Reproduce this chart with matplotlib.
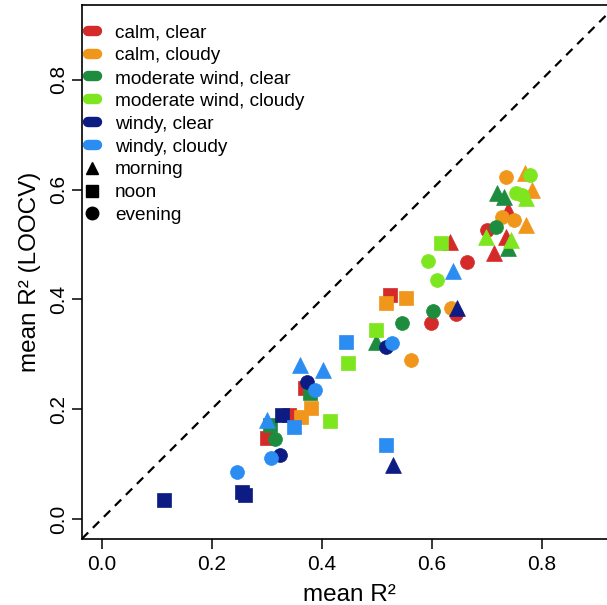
import matplotlib
matplotlib.use("Agg")
import matplotlib.pyplot as plt
from matplotlib.lines import Line2D

plt.rcParams['font.family'] = ['Liberation Sans', 'DejaVu Sans']

# groupes (vent, nebulosite) et couleurs
groups = ["calm, clear", "calm, cloudy", "moderate wind, clear",
          "moderate wind, cloudy", "windy, clear", "windy, cloudy"]
colors = ["#D42A2A", "#F0961A", "#1E8C3E", "#7EE61E", "#0C1C82", "#2B8CF2"]

# moment de la journee -> marqueur
times = ["morning", "noon", "evening"]
markers = {"morning": "^", "noon": "s", "evening": "o"}

# (mean R2, mean R2 LOOCV, moment) par groupe
calm_clear_x = [0.301, 0.341, 0.369, 0.525, 0.598, 0.644, 0.664, 0.633, 0.714, 0.701, 0.736, 0.738]
calm_clear_y = [0.148, 0.189, 0.239, 0.408, 0.357, 0.373, 0.468, 0.505, 0.485, 0.526, 0.514, 0.563]
calm_clear_t = ["noon", "noon", "noon", "noon", "evening", "evening", "evening",
                "morning", "morning", "evening", "morning", "morning"]

calm_cloudy_x = [0.363, 0.380, 0.517, 0.554, 0.563, 0.635, 0.736, 0.769, 0.782, 0.728, 0.750, 0.772]
calm_cloudy_y = [0.186, 0.202, 0.393, 0.403, 0.290, 0.384, 0.623, 0.630, 0.599, 0.550, 0.545, 0.536]
calm_cloudy_t = ["noon", "noon", "noon", "noon", "evening", "evening", "evening",
                 "morning", "morning", "evening", "evening", "morning"]

mod_clear_x = [0.306, 0.316, 0.378, 0.499, 0.547, 0.602, 0.717, 0.719, 0.732, 0.738]
mod_clear_y = [0.171, 0.146, 0.230, 0.322, 0.357, 0.379, 0.532, 0.594, 0.587, 0.494]
mod_clear_t = ["noon", "evening", "noon", "morning", "evening", "evening",
               "evening", "morning", "morning", "morning"]

mod_cloudy_x = [0.415, 0.448, 0.499, 0.617, 0.593, 0.609, 0.699, 0.745, 0.754, 0.765, 0.778, 0.772]
mod_cloudy_y = [0.178, 0.284, 0.344, 0.503, 0.470, 0.435, 0.514, 0.508, 0.594, 0.590, 0.627, 0.585]
mod_cloudy_t = ["noon", "noon", "noon", "noon", "evening", "evening", "morning",
                "morning", "evening", "evening", "evening", "morning"]

windy_clear_x = [0.114, 0.255, 0.261, 0.325, 0.327, 0.374, 0.517, 0.530, 0.646]
windy_clear_y = [0.035, 0.049, 0.044, 0.117, 0.189, 0.250, 0.313, 0.098, 0.384]
windy_clear_t = ["noon", "noon", "noon", "evening", "noon", "evening",
                 "evening", "morning", "morning"]

windy_cloudy_x = [0.246, 0.308, 0.301, 0.350, 0.387, 0.361, 0.402, 0.444, 0.528, 0.517, 0.639]
windy_cloudy_y = [0.086, 0.111, 0.180, 0.168, 0.235, 0.281, 0.271, 0.322, 0.321, 0.135, 0.452]
windy_cloudy_t = ["evening", "evening", "morning", "noon", "evening", "morning",
                  "morning", "noon", "evening", "noon", "morning"]

series = [
    (calm_clear_x, calm_clear_y, calm_clear_t),
    (calm_cloudy_x, calm_cloudy_y, calm_cloudy_t),
    (mod_clear_x, mod_clear_y, mod_clear_t),
    (mod_cloudy_x, mod_cloudy_y, mod_cloudy_t),
    (windy_clear_x, windy_clear_y, windy_clear_t),
    (windy_cloudy_x, windy_cloudy_y, windy_cloudy_t),
]

ticks = [0.0, 0.2, 0.4, 0.6, 0.8]

fig = plt.figure(figsize=(6.07, 6.05), dpi=100)
# axe droit volontairement hors cadre (image rognee a droite)
ax = fig.add_axes([0.1349, 0.1094, 0.8806, 0.8823])

# ligne 1:1
ax.axline((0, 0), slope=1, color="black", lw=1.6, ls=(0, (4, 3)), zorder=1)

for (xs, ys, ts), col in zip(series, colors):
    for t in times:
        px = [x for x, tt in zip(xs, ts) if tt == t]
        py = [y for y, tt in zip(ys, ts) if tt == t]
        s = 130 if t == "morning" else 100
        ax.scatter(px, py, marker=markers[t], s=s, color=col,
                   edgecolors=col, linewidths=0.5, zorder=3)

ax.set_xlim(-0.036, 0.936)
ax.set_ylim(-0.036, 0.936)
ax.set_xticks(ticks)
ax.set_yticks(ticks)
ax.set_xticklabels(["{:.1f}".format(v) for v in ticks], fontsize=15)
ax.set_yticklabels(["{:.1f}".format(v) for v in ticks], fontsize=15,
                   rotation=90, va="center")
ax.tick_params(length=7, width=1.1, direction="out")
ax.tick_params(axis="x", pad=4.5)
ax.tick_params(axis="y", pad=3)
for sp in ax.spines.values():
    sp.set_linewidth(1.2)

ax.set_xlabel("mean R²", fontsize=17.5, labelpad=7)
ax.set_ylabel("mean R² (LOOCV)", fontsize=17.5, labelpad=6)

# legende
handles = [Line2D([0], [0], color=c, lw=7.5, solid_capstyle="round") for c in colors]
handles += [Line2D([0], [0], marker=markers[t], color="black", ls="none",
                   markersize=9) for t in times]
labels = groups + times
ax.legend(handles, labels, loc="upper left", frameon=False, fontsize=13.7,
          handlelength=0.5, handletextpad=0.95, labelspacing=0.29,
          borderpad=0, borderaxespad=0.3, bbox_to_anchor=(0.0, 0.975))

plt.savefig("out.png", dpi=100)
